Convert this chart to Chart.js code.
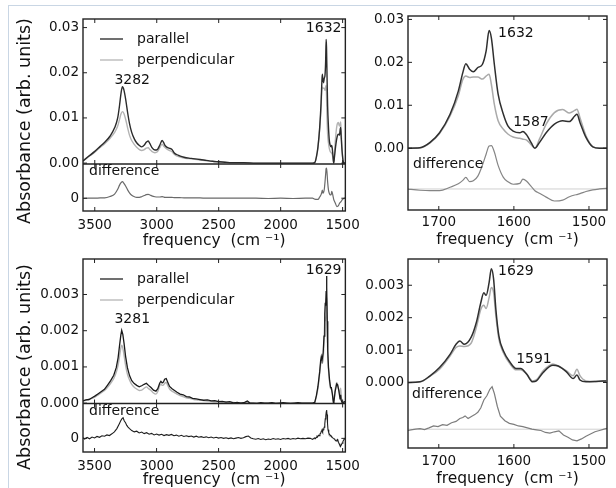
<!DOCTYPE html>
<html>
<head>
<meta charset="utf-8">
<script src="https://cdn.jsdelivr.net/npm/chart.js@4.4.1/dist/chart.umd.min.js"></script>
<style>
html, body { margin: 0; padding: 0; background: #fff; }
#wrap { position: relative; width: 616px; height: 488px; overflow: hidden; }
#wrap canvas { position: absolute; }
#edge { position: absolute; left: 8px; top: 5px; width: 640px; height: 500px;
        border-top: 1px solid #c9d6e4; border-left: 1px solid #c9d6e4; }
</style>
</head>
<body>
<div id="wrap">
  <div id="edge"></div>
  <canvas id="tl" width="366" height="250" style="left:0;top:0"></canvas>
  <canvas id="tr" width="266" height="249" style="left:350px;top:0"></canvas>
  <canvas id="bl" width="366" height="244" style="left:0;top:245px"></canvas>
  <canvas id="br" width="266" height="243" style="left:350px;top:245px"></canvas>
</div>
<script>
// ---- tick labels ----
const wideTicks = [3500, 3000, 2500, 2000, 1500];
const zoomTicks = [1700, 1600, 1500];
const topYTicks = [0, 0.01, 0.02, 0.03];
const botYTicks = [0, 0.001, 0.002, 0.003];

// ---- top row, amide region (zoomed) ----
const trFreq = [1743, 1725, 1712, 1699, 1685, 1674, 1668, 1664, 1659, 1654,
  1648, 1642, 1637, 1633, 1630, 1626, 1621, 1614, 1608, 1601,
  1592, 1588, 1583, 1577, 1572, 1566, 1557, 1546, 1535, 1526,
  1519, 1516, 1512, 1504, 1495, 1486, 1472];
const trPar = [0, 0.0001, 0.0013, 0.0036, 0.0079, 0.0133, 0.0176, 0.0197, 0.0184, 0.0178,
  0.0188, 0.0195, 0.0226, 0.0274, 0.0257, 0.0195, 0.0126, 0.0079, 0.0052, 0.0040,
  0.0036, 0.0039, 0.0031, 0.0013, 0.0000, 0.0013, 0.0036, 0.0056, 0.0064, 0.0062,
  0.0075, 0.0079, 0.0060, 0.0025, 0.0003, 0, 0];
const trPerp = [0, 0.0001, 0.0012, 0.0034, 0.0075, 0.0122, 0.0160, 0.0168, 0.0165, 0.0166,
  0.0166, 0.0161, 0.0168, 0.0172, 0.0149, 0.0102, 0.0064, 0.0044, 0.0033, 0.0026,
  0.0023, 0.0021, 0.0019, 0.0008, 0.0000, 0.0021, 0.0056, 0.0083, 0.0090, 0.0082,
  0.0088, 0.0091, 0.0071, 0.0029, 0.0004, 0, 0];
const trDiff = [0, -0.0003, -0.0004, -0.0004, 0.0004, 0.0012, 0.0020, 0.0027, 0.0017, 0.0019,
  0.0030, 0.0055, 0.0081, 0.0100, 0.0101, 0.0086, 0.0055, 0.0027, 0.0017, 0.0011,
  0.0013, 0.0023, 0.0018, 0.0006, -0.0004, -0.0010, -0.0019, -0.0028, -0.0026, -0.0018,
  -0.0014, -0.0013, -0.0011, -0.0006, -0.0002, 0, 0.0002];
const trDiffOffset = -0.0095;

// ---- top row, full range above 1760 ----
const tlHiFreq = [3595, 3550, 3500, 3456, 3420, 3376, 3340, 3315, 3300, 3288,
  3277, 3265, 3250, 3235, 3220, 3202, 3180, 3162, 3140, 3122,
  3100, 3085, 3069, 3055, 3040, 3015, 2995, 2975, 2957, 2945,
  2935, 2922, 2900, 2877, 2860, 2840, 2815, 2780, 2740, 2708,
  2650, 2601, 2550, 2494, 2450, 2400, 2300, 2200, 2100, 2000,
  1900, 1800, 1760];
const tlHiPar = [0.0005, 0.0015, 0.0026, 0.0037, 0.0046, 0.0060, 0.0078, 0.0100, 0.0128, 0.0155,
  0.0169, 0.0162, 0.0140, 0.0112, 0.0088, 0.0068, 0.0053, 0.0045, 0.0039, 0.0036,
  0.0040, 0.0046, 0.0049, 0.0043, 0.0035, 0.0029, 0.0030, 0.0040, 0.0050, 0.0046,
  0.0040, 0.0036, 0.0033, 0.0030, 0.0023, 0.0019, 0.0016, 0.0013, 0.0011, 0.0010,
  0.0008, 0.0006, 0.0004, 0.0003, 0.0002, 0.0001, 0.0001, 0, 0, 0,
  0, 0, 0];
const tlHiPerp = [0.0004, 0.0014, 0.0024, 0.0035, 0.0043, 0.0055, 0.0068, 0.0082, 0.0097, 0.0109,
  0.0114, 0.0110, 0.0096, 0.0078, 0.0062, 0.0050, 0.0041, 0.0035, 0.0030, 0.0028,
  0.0030, 0.0033, 0.0034, 0.0030, 0.0026, 0.0023, 0.0025, 0.0034, 0.0042, 0.0038,
  0.0035, 0.0032, 0.0028, 0.0025, 0.0020, 0.0016, 0.0014, 0.0011, 0.0010, 0.0009,
  0.0007, 0.0005, 0.0004, 0.0002, 0.0002, 0.0001, 0.0001, 0, 0, 0,
  0, 0, 0];
const tlHiDiff = [-0.0001, 0, 0, 0.0001, 0.0001, 0.0006, 0.0014, 0.0030, 0.0044, 0.0052,
  0.0056, 0.0050, 0.0040, 0.0028, 0.0018, 0.0010, 0.0005, 0.0003, 0.0003, 0.0005,
  0.0009, 0.0012, 0.0013, 0.0011, 0.0008, 0.0005, 0.0004, 0.0004, 0.0005, 0.0004,
  0.0003, 0.0003, 0.0003, 0.0003, 0.0002, 0.0002, 0.0002, 0.0001, 0.0001, 0.0001,
  0.0001, 0, 0, 0, 0, 0, 0, 0, -0.0001, 0,
  -0.0001, 0, 0];

// ---- bottom row, amide region (zoomed) ----
const brFreq = [1743, 1725, 1712, 1699, 1685, 1677, 1672, 1666, 1657, 1650,
  1644, 1640, 1637, 1633, 1630, 1627, 1624, 1620, 1614, 1605,
  1597, 1591, 1583, 1575, 1570, 1561, 1548, 1541, 1530, 1521,
  1516, 1512, 1504, 1491, 1477];
const brPar = [0, 0.00002, 0.0002, 0.00046, 0.00087, 0.00118, 0.00128, 0.00118, 0.00139, 0.00185,
  0.00247, 0.00277, 0.00269, 0.00308, 0.00351, 0.00319, 0.00226, 0.00144, 0.00098, 0.00062,
  0.00043, 0.00043, 0.00026, 0.00002, 0.00005, 0.00031, 0.00053, 0.00051, 0.00033, 0.00012,
  0.00023, 0.00008, 0.00002, 0.00003, 0.00005];
const brPerp = [0, 0.00002, 0.00019, 0.00041, 0.00082, 0.00108, 0.00113, 0.00111, 0.00121, 0.0017,
  0.00226, 0.00238, 0.00228, 0.00262, 0.00293, 0.00277, 0.00206, 0.00134, 0.00092, 0.00057,
  0.00039, 0.00039, 0.00026, 0.00005, 0.00008, 0.00036, 0.00057, 0.00051, 0.00036, 0.00021,
  0.00041, 0.00021, 0.00005, 0.00003, 0.00005];
const brDiffFreq = [1743, 1737, 1731, 1725, 1719, 1713, 1707, 1701, 1695, 1689,
  1683, 1677, 1672, 1668, 1665, 1661, 1656, 1652, 1648, 1644,
  1640, 1636, 1632, 1629, 1626, 1622, 1618, 1612, 1606, 1600,
  1594, 1588, 1582, 1576, 1570, 1564, 1558, 1552, 1546, 1540,
  1534, 1528, 1522, 1516, 1510, 1504, 1498, 1492, 1486, 1480,
  1474];
const brDiff = [-0.00005, -0.00002, 0, 0.00002, -0.00001, 0.00004, 0.0001, 0.00008, 0.00014, 0.00012,
  0.0002, 0.00024, 0.00033, 0.00036, 0.00041, 0.00033, 0.0004, 0.00045, 0.00052, 0.00066,
  0.0009, 0.00103, 0.00123, 0.00131, 0.0011, 0.0007, 0.0004, 0.00026, 0.00018, 0.00015,
  0.0001, 0.00008, 0.00004, 0, -0.00002, -0.00004, -0.0001, -0.00012, -0.00008, -0.00005,
  -0.00018, -0.00025, -0.00033, -0.00036, -0.0003, -0.00022, -0.00015, -0.00008, -0.00004, 0,
  0.00004];
const brDiffOffset = -0.00144;

// ---- bottom row, full range above 1760 ----
const blHiFreq = [3595, 3570, 3545, 3520, 3495, 3470, 3445, 3420, 3395, 3370,
  3345, 3325, 3310, 3298, 3288, 3281, 3272, 3262, 3250, 3235,
  3218, 3200, 3180, 3160, 3140, 3120, 3100, 3082, 3065, 3045,
  3025, 3005, 2990, 2975, 2965, 2955, 2945, 2935, 2922, 2910,
  2895, 2875, 2855, 2835, 2810, 2785, 2760, 2735, 2710, 2680,
  2650, 2620, 2590, 2560, 2530, 2500, 2470, 2440, 2410, 2380,
  2350, 2320, 2290, 2268, 2250, 2220, 2190, 2160, 2130, 2100,
  2070, 2040, 2010, 1980, 1950, 1920, 1890, 1860, 1830, 1800,
  1770];
const blHiPar = [0.00006, 0.00009, 0.00010, 0.00015, 0.00020, 0.00026, 0.00032, 0.00038, 0.00050, 0.00062,
  0.00077, 0.00098, 0.00125, 0.00160, 0.00188, 0.00201, 0.00190, 0.00165, 0.00130, 0.00098,
  0.00076, 0.00062, 0.00054, 0.00049, 0.00045, 0.00048, 0.00052, 0.00055, 0.00049, 0.00043,
  0.00036, 0.00033, 0.00040, 0.00055, 0.00060, 0.00056, 0.00058, 0.00066, 0.00068, 0.00058,
  0.00046, 0.00040, 0.00035, 0.00030, 0.00025, 0.00023, 0.00018, 0.00017, 0.00013, 0.00012,
  0.00010, 0.00008, 0.00009, 0.00006, 0.00007, 0.00004, 0.00005, 0.00003, 0.00004, 0.00001,
  0.00002, 0.00000, 0.00002, 0.00006, 0.00001, 0.00000, -0.00001, 0.00001, 0.00000, 0.00000,
  0.00001, -0.00001, 0.00000, 0.00001, 0.00000, -0.00001, 0.00000, 0.00001, 0.00000, 0.00000,
  0.00000];
const blHiPerp = [0.00005, 0.00008, 0.00010, 0.00013, 0.00017, 0.00023, 0.00029, 0.00035, 0.00044, 0.00055,
  0.00068, 0.00085, 0.00105, 0.00130, 0.00152, 0.00160, 0.00152, 0.00132, 0.00105, 0.00080,
  0.00064, 0.00052, 0.00044, 0.00039, 0.00035, 0.00036, 0.00041, 0.00045, 0.00040, 0.00035,
  0.00028, 0.00025, 0.00032, 0.00048, 0.00052, 0.00049, 0.00050, 0.00055, 0.00057, 0.00049,
  0.00039, 0.00033, 0.00029, 0.00025, 0.00021, 0.00018, 0.00015, 0.00013, 0.00011, 0.00009,
  0.00008, 0.00007, 0.00006, 0.00005, 0.00004, 0.00004, 0.00003, 0.00003, 0.00002, 0.00002,
  0.00001, 0.00001, 0.00001, 0.00002, 0.00001, 0, 0, 0, 0, 0,
  0, 0, 0, 0, 0, 0, 0, 0, 0, 0,
  0];
const blDiffFreq = [3600, 3580, 3560, 3540, 3520, 3500, 3480, 3460, 3440, 3420,
  3400, 3380, 3360, 3340, 3320, 3300, 3290, 3280, 3270, 3260,
  3250, 3240, 3230, 3220, 3200, 3180, 3160, 3140, 3120, 3100,
  3080, 3060, 3040, 3020, 3000, 2980, 2960, 2940, 2920, 2900,
  2880, 2860, 2840, 2820, 2800, 2780, 2760, 2740, 2720, 2700,
  2680, 2660, 2640, 2620, 2600, 2580, 2560, 2540, 2520, 2500,
  2480, 2460, 2440, 2420, 2400, 2380, 2360, 2340, 2320, 2300,
  2280, 2260, 2240, 2220, 2200, 2180, 2160, 2140, 2120, 2100,
  2080, 2060, 2040, 2020, 2000, 1980, 1960, 1940, 1920, 1900,
  1880, 1860, 1840, 1820, 1800, 1780, 1760];
const blDiff = [0.00005, -0.00003, 0.00004, -0.00002, 0.00006, 0.00002, 0.00009, 0.00005, 0.00012, 0.00010,
  0.00016, 0.00013, 0.00021, 0.00030, 0.00045, 0.00068, 0.00080, 0.00090, 0.00095, 0.00080,
  0.00072, 0.00060, 0.00052, 0.00046, 0.00036, 0.00030, 0.00033, 0.00025, 0.00029, 0.00022,
  0.00026, 0.00019, 0.00023, 0.00016, 0.00020, 0.00015, 0.00019, 0.00013, 0.00017, 0.00014,
  0.00018, 0.00012, 0.00015, 0.00010, 0.00014, 0.00009, 0.00012, 0.00008, 0.00011, 0.00006,
  0.00010, 0.00005, 0.00008, 0.00004, 0.00007, 0.00003, 0.00006, 0.00002, 0.00005, 0.00001,
  0.00004, 0.00000, 0.00003, -0.00001, 0.00002, -0.00002, 0.00001, 0.00004, 0.00000, 0.00003,
  0.00008, 0.00011, 0.00002, -0.00002, -0.00004, -0.00001, -0.00005, -0.00002, -0.00006, -0.00003,
  -0.00005, -0.00001, -0.00004, -0.00002, -0.00005, -0.00001, -0.00003, 0.00000, -0.00004, -0.00001,
  -0.00003, 0.00001, -0.00002, 0.00000, -0.00002, 0.00001, 0.00000];

Chart.defaults.font.family = "'DejaVu Sans', sans-serif";
const ink = '#111';

function pts(xs, ys, off) {
  return xs.map((x, i) => ({x: x, y: ys[i] + (off || 0)}));
}
function curve(data, color, width, axis, smooth) {
  return {data: data, borderColor: color, borderWidth: width, pointRadius: 0, fill: false,
    yAxisID: axis, tension: 0, cubicInterpolationMode: smooth ? 'monotone' : 'default'};
}

// frame, inward ticks, legend and peak labels (matplotlib look)
const framePlugin = {
  id: 'frame',
  afterDatasetsDraw(chart, args, o) {
    const {ctx, chartArea: a, scales} = chart;
    const seg = (x1, y1, x2, y2) => { ctx.beginPath(); ctx.moveTo(x1, y1); ctx.lineTo(x2, y2); ctx.stroke(); };
    ctx.save();
    ctx.strokeStyle = '#222';
    ctx.lineWidth = 1.4;
    ctx.strokeRect(a.left, a.top, a.width, a.height);
    const mid = scales.yd ? scales.y.bottom : null;
    if (mid !== null) seg(a.left, mid, a.right, mid);
    ctx.lineWidth = 1;
    const tk = 4;
    scales.x.ticks.forEach(t => {
      const px = scales.x.getPixelForValue(t.value);
      seg(px, a.top, px, a.top + tk);
      seg(px, a.bottom, px, a.bottom - tk);
      if (mid !== null) { seg(px, mid, px, mid - tk); seg(px, mid, px, mid + tk); }
    });
    ['y', 'yd'].forEach(id => {
      const s = scales[id];
      if (!s) return;
      s.ticks.forEach(t => {
        const py = s.getPixelForValue(t.value);
        seg(a.left, py, a.left + tk, py);
        seg(a.right, py, a.right - tk, py);
      });
    });

    ctx.fillStyle = ink;
    ctx.textBaseline = 'middle';
    ctx.font = "14px 'DejaVu Sans'";
    (o.notes || []).forEach(n => {
      ctx.textAlign = n.align;
      ctx.fillText(n.text, scales.x.getPixelForValue(n.x), scales.y.getPixelForValue(n.y));
    });
    ctx.textAlign = 'left';
    ctx.fillText('difference', a.left + o.diffLabel[0], a.top + o.diffLabel[1]);

    if (o.legend) {
      o.legend.forEach((it, i) => {
        const y = a.top + o.legendRows[i];
        ctx.strokeStyle = it.color;
        ctx.lineWidth = 1.4;
        seg(a.left + 17, y, a.left + 40, y);
        ctx.fillText(it.label, a.left + 54, y);
      });
    }
    if (o.yTitle) {
      ctx.save();
      ctx.translate(o.yTitle.x, o.yTitle.y);
      ctx.rotate(-Math.PI / 2);
      ctx.textAlign = 'center';
      ctx.font = "17.5px 'DejaVu Sans'";
      ctx.fillText('Absorbance (arb. units)', 0, 0);
      ctx.restore();
    }
    ctx.restore();
  }
};

function makePanel(id, p) {
  const scales = {
    x: {
      type: 'linear', reverse: true, min: p.xMin, max: p.xMax,
      afterBuildTicks: s => { s.ticks = p.xTicks.map(v => ({value: v})); },
      afterFit: s => { s.height = p.xH; },
      grid: {display: false, drawTicks: false},
      border: {display: false},
      ticks: {autoSkip: false, maxRotation: 0, padding: p.xPad, color: ink, font: {size: 13.5},
        callback: v => String(v)},
      title: {display: true, text: 'frequency  (cm \u207B\u00B9)', color: ink, font: {size: 15.5}, padding: 0}
    },
    y: {
      type: 'linear', position: 'left', min: p.yMin, max: p.yMax,
      afterBuildTicks: s => { s.ticks = p.yTicks.map(v => ({value: v})); },
      afterFit: s => { s.width = p.yW; },
      grid: {display: false, drawTicks: false},
      border: {display: false},
      ticks: {padding: 4, color: ink, font: {size: 13.5}, callback: v => v.toFixed(p.dec)}
    }
  };
  if (p.diff) {
    Object.assign(scales.y, {stack: 'v', stackWeight: p.mainW, weight: 2});
    scales.yd = {
      type: 'linear', position: 'left', min: p.dMin, max: p.dMax,
      stack: 'v', stackWeight: p.diffW, weight: 1,
      afterBuildTicks: s => { s.ticks = [{value: 0}]; },
      afterFit: s => { s.width = p.yW; },
      grid: {display: false, drawTicks: false},
      border: {display: false},
      ticks: {padding: 4, color: ink, font: {size: 13.5}, callback: () => '0'}
    };
  }
  return new Chart(document.getElementById(id), {
    type: 'line',
    data: {datasets: p.datasets},
    options: {
      responsive: false, animation: false, events: [],
      layout: {padding: {top: p.padTop, right: p.padRight, left: 0, bottom: 0}},
      scales: scales,
      plugins: {legend: {display: false}, tooltip: {enabled: false}, frame: p.frame}
    },
    plugins: [framePlugin]
  });
}

const legendItems = [{label: 'parallel', color: '#333'}, {label: 'perpendicular', color: '#bbb'}];

// top left: full spectrum with difference strip
makePanel('tl', {
  xMin: 1478, xMax: 3595, xTicks: wideTicks, xH: 39, xPad: 6,
  yMin: -0.0002, yMax: 0.0319, yTicks: topYTicks, dec: 2, yW: 83,
  diff: true, mainW: 145, diffW: 47, dMin: -0.0043, dMax: 0.0115,
  padTop: 19, padRight: 19,
  datasets: [
    curve(pts(tlHiFreq.concat(trFreq), tlHiPar.concat(trPar)), '#2b2b2b', 1.4, 'y', true),
    curve(pts(tlHiFreq.concat(trFreq), tlHiPerp.concat(trPerp)), '#b3b3b3', 1.4, 'y', true),
    curve(pts(tlHiFreq.concat(trFreq), tlHiDiff.concat(trDiff)), '#6a6a6a', 1.2, 'yd', true)
  ],
  frame: {
    notes: [{text: '3282', x: 3198, y: 0.0184, align: 'center'},
            {text: '1632', x: 1653, y: 0.0298, align: 'center'}],
    diffLabel: [6, 152.7], legend: legendItems, legendRows: [20, 41],
    yTitle: {x: 25, y: 121}
  }
});

// top right: amide region, difference offset below
makePanel('tr', {
  xMin: 1476, xMax: 1741, xTicks: zoomTicks, xH: 39, xPad: 4,
  yMin: -0.0144, yMax: 0.0308, yTicks: topYTicks, dec: 2, yW: 58,
  padTop: 16, padRight: 9,
  datasets: [
    curve(pts(trFreq, trPar), '#2f2f2f', 1.5, 'y', true),
    curve(pts(trFreq, trPerp), '#aaaaaa', 1.5, 'y', true),
    curve(pts(trFreq, trDiff, trDiffOffset), '#858585', 1.2, 'y', true),
    curve([{x: 1741, y: trDiffOffset}, {x: 1476, y: trDiffOffset}], '#d0d0d0', 1, 'y', false)
  ],
  frame: {
    notes: [{text: '1632', x: 1621, y: 0.0268, align: 'left'},
            {text: '1587', x: 1601, y: 0.0061, align: 'left'}],
    diffLabel: [5, 148]
  }
});

// bottom left: full spectrum with difference strip
makePanel('bl', {
  xMin: 1478, xMax: 3593, xTicks: wideTicks, xH: 37, xPad: 6,
  yMin: -0.00001, yMax: 0.00398, yTicks: botYTicks, dec: 3, yW: 83,
  diff: true, mainW: 144.5, diffW: 48.5, dMin: -0.00063, dMax: 0.00161,
  padTop: 14, padRight: 17.5,
  datasets: [
    curve(pts(blHiFreq.concat(brFreq), blHiPar.concat(brPar)), '#1a1a1a', 1.3, 'y', false),
    curve(pts(blHiFreq.concat(brFreq), blHiPerp.concat(brPerp)), '#b3b3b3', 1.4, 'y', true),
    curve(pts(blDiffFreq.concat(brDiffFreq), blDiff.concat(brDiff)), '#1e1e1e', 1.1, 'yd', false)
  ],
  frame: {
    notes: [{text: '3281', x: 3196, y: 0.00230, align: 'center'},
            {text: '1629', x: 1653, y: 0.00368, align: 'center'}],
    diffLabel: [6, 152], legend: legendItems, legendRows: [20, 41],
    yTitle: {x: 25, y: 122}
  }
});

// bottom right: amide region, difference offset below
makePanel('br', {
  xMin: 1476, xMax: 1741, xTicks: zoomTicks, xH: 40, xPad: 5,
  yMin: -0.00202, yMax: 0.00381, yTicks: botYTicks, dec: 3, yW: 58,
  padTop: 14, padRight: 9,
  datasets: [
    curve(pts(brFreq, brPar), '#2f2f2f', 1.5, 'y', true),
    curve(pts(brFreq, brPerp), '#aaaaaa', 1.5, 'y', true),
    curve(pts(brDiffFreq, brDiff, brDiffOffset), '#7d7d7d', 1.2, 'y', false),
    curve([{x: 1741, y: brDiffOffset}, {x: 1476, y: brDiffOffset}], '#d0d0d0', 1, 'y', false)
  ],
  frame: {
    notes: [{text: '1629', x: 1621, y: 0.00344, align: 'left'},
            {text: '1591', x: 1597, y: 0.00072, align: 'left'}],
    diffLabel: [4, 135]
  }
});
</script>
</body>
</html>
